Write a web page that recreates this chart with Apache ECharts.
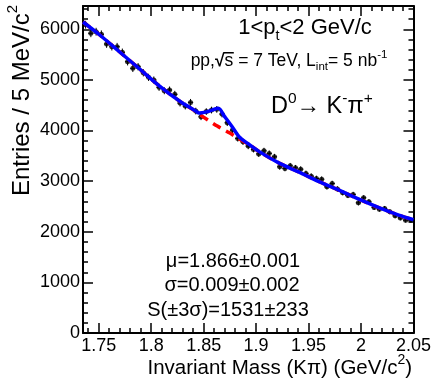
<!DOCTYPE html>
<html><head><meta charset="utf-8">
<script src="https://cdn.jsdelivr.net/npm/echarts@6/dist/echarts.min.js"></script>
<style>html,body{margin:0;padding:0;background:#fff}#c{width:434px;height:385px}</style>
</head><body><div id="c"></div>
<script>
const FONT = 'Liberation Sans';

// Data: invariant mass bin centres (GeV/c^2) and entries per 5 MeV/c^2
const massBins = [
 1.7375,1.7425,1.7475,1.7525,1.7575,1.7625,1.7675,1.7725,1.7775,1.7825,
 1.7875,1.7925,1.7975,1.8025,1.8075,1.8125,1.8175,1.8225,1.8275,1.8325,
 1.8375,1.8425,1.8475,1.8525,1.8575,1.8625,1.8675,1.8725,1.8775,1.8825,
 1.8875,1.8925,1.8975,1.9025,1.9075,1.9125,1.9175,1.9225,1.9275,1.9325,
 1.9375,1.9425,1.9475,1.9525,1.9575,1.9625,1.9675,1.9725,1.9775,1.9825,
 1.9875,1.9925,1.9975,2.0025,2.0075,2.0125,2.0175,2.0225,2.0275,2.0325,
 2.0375,2.0425,2.0475];
const entries = [
 6090,5921,5952,5901,5709,5656,5656,5545,5359,5228,
 5260,5141,5050,4997,4853,4786,4800,4715,4542,4483,
 4556,4384,4271,4374,4404,4418,4325,4153,4008,3844,
 3777,3692,3627,3538,3599,3548,3480,3283,3251,3302,
 3263,3237,3152,3099,3053,3039,2887,2954,2846,2772,
 2717,2737,2571,2670,2591,2480,2446,2460,2393,2314,
 2274,2229,2229];

// Total fit (signal + background)
const fitMass  = [1.735,1.751,1.770,1.789,1.808,1.827,1.842,1.846,1.853,1.858,1.864,1.870,1.877,1.884,1.892,1.903,1.922,1.941,1.960,1.979,1.998,2.017,2.036,2.050];
const fitTotal = [6144,5887,5551,5215,4878,4582,4390,4345,4370,4404,4438,4275,4080,3872,3745,3583,3356,3178,2990,2822,2643,2476,2328,2238];

// Background-only fit (dashed)
const bgMass   = [1.735,1.751,1.770,1.789,1.808,1.827,1.842,1.847,1.863,1.875,1.884,1.894,1.903,1.922,1.941,1.960,1.979,1.998,2.017,2.036,2.050];
const bgValues = [6144,5887,5551,5215,4878,4582,4384,4305,4088,3949,3831,3712,3583,3356,3178,2990,2822,2643,2476,2328,2238];

// Ticks
const xMajorTicks = [1.75,1.8,1.85,1.9,1.95,2.0,2.05];
const xTickLabels = ['1.75','1.8','1.85','1.9','1.95','2','2.05'];
const yMajorTicks = [0,1000,2000,3000,4000,5000,6000];
const yTickLabels = ['0','1000','2000','3000','4000','5000','6000'];
const xMinorTicks = [];
for (let i = 0; i <= 31; i++) xMinorTicks.push(Math.round((1.74 + i*0.01)*100)/100);
const yMinorTicks = [];
for (let i = 0; i <= 32; i++) yMinorTicks.push(i*200);

const X_MIN = 1.735, X_MAX = 2.05, Y_MIN = 0, Y_MAX = 6460;

function labelFor(v, ticks, labels){
  let best = 0, d = 1e9;
  ticks.forEach((t,i)=>{ const dd=Math.abs(t-v); if(dd<d){d=dd;best=i;} });
  return labels[best];
}

function xAx(pos, ticks, len, withLabels, withLine){
  return {type:'value', min:X_MIN, max:X_MAX, position:pos,
    axisLine:{show:withLine, onZero:false, lineStyle:{color:'#000', width:2}},
    axisTick:{show:true, inside:true, length:len, customValues:ticks, lineStyle:{color:'#000', width:1.5}},
    axisLabel:withLabels ? {show:true, customValues:xMajorTicks, color:'#000', fontSize:18, fontFamily:FONT, margin:4,
      formatter:(v)=>labelFor(v,xMajorTicks,xTickLabels)} : {show:false},
    splitLine:{show:false}};
}
function yAx(pos, ticks, len, withLabels, withLine){
  return {type:'value', min:Y_MIN, max:Y_MAX, position:pos,
    axisLine:{show:withLine, onZero:false, lineStyle:{color:'#000', width:2}},
    axisTick:{show:true, inside:true, length:len, customValues:ticks, lineStyle:{color:'#000', width:1.5}},
    axisLabel:withLabels ? {show:true, customValues:yMajorTicks, color:'#000', fontSize:18, fontFamily:FONT, margin:3,
      formatter:(v)=>labelFor(v,yMajorTicks,yTickLabels)} : {show:false},
    splitLine:{show:false}};
}

const mctx = document.createElement('canvas').getContext('2d');
function tw(t, size, weight){ mctx.font = (weight||'normal') + ' ' + size + 'px "' + FONT + '"'; return mctx.measureText(t).width; }
function seqGroup(segs, x, y, align, rotation){
  let w = 0; const kids = []; const overs = [];
  segs.forEach(s => {
    const sw = tw(s[0], s[1], s[3]);
    kids.push({type:'text', x:w, y:(s[2]||0), style:{text:s[0], fontSize:s[1], fontFamily:FONT, fontWeight:s[3]||'normal',
      fill:'#000', align:'left', verticalAlign:'middle', textAlign:'left', textVerticalAlign:'middle'}});
    if (s[4]) overs.push({x1:w-1, x2:w+sw+0.5, y:(s[2]||0) - 0.47*s[1]});
    w += sw;
  });
  const off = align==='center' ? -w/2 : (align==='right' ? -w : 0);
  kids.forEach(k => { k.x += off; });
  overs.forEach(o => kids.push({type:'line', shape:{x1:o.x1+off, y1:o.y, x2:o.x2+off, y2:o.y}, style:{stroke:'#000', lineWidth:1.5}}));
  return {type:'group', x:x, y:y, rotation:rotation||0, children:kids, silent:true};
}

const graphics = [
  seqGroup([['1<p',22],['t',14.5,8],['<2 GeV/c',22]], 305, 28, 'center'),
  seqGroup([['pp,',17.5],['\u221A',17.5,0,'bold'],['s',17.5,0,'normal',true],[' = 7 TeV, L',17.5],['int',11.5,6],['= 5 nb',17.5],['-1',11.5,-6]], 289, 61, 'center'),
  seqGroup([['D',23.5],['0',15.5,-8],['\u2192 K',23.5],['-',15.5,-8],['\u03C0',23.5],['+',15.5,-8]], 271, 107, 'left'),
  seqGroup([['\u03BC=1.866\u00B10.001',20]], 233, 261, 'center'),
  seqGroup([['\u03C3=0.009\u00B10.002',20]], 232, 285, 'center'),
  seqGroup([['S(\u00B13\u03C3)=1531\u00B1233',20]], 228, 310, 'center'),
  seqGroup([['Invariant Mass (K\u03C0) (GeV/c',20.5],['2',14,-8],[')',20.5]], 412, 368, 'right'),
  seqGroup([['Entries / 5 MeV/c',24],['2',15,-9]], 22, 5, 'right', Math.PI/2)
];

const chart = echarts.init(document.getElementById('c'), null, {renderer:'canvas'});
chart.setOption({
  animation:false,
  backgroundColor:'#fff',
  grid:{left:83, right:20, top:6, bottom:52, containLabel:false},
  xAxis:[ xAx('bottom', xMajorTicks, 10, true, true), xAx('bottom', xMinorTicks, 5, false, false),
          xAx('top', xMajorTicks, 10, false, true), xAx('top', xMinorTicks, 5, false, false) ],
  yAxis:[ yAx('left', yMajorTicks, 10, true, true), yAx('left', yMinorTicks, 5, false, false),
          yAx('right', yMajorTicks, 10, false, true), yAx('right', yMinorTicks, 5, false, false) ],
  series:[
    {type:'custom', xAxisIndex:0, yAxisIndex:0, z:2, silent:true,
     data: massBins.map((m,i)=>[m, entries[i], Math.sqrt(entries[i])]),
     renderItem:function(params, api){
       const x=api.value(0), y=api.value(1), e=api.value(2);
       const t=api.coord([x,y+e]), b=api.coord([x,y-e]);
       const l=api.coord([x-0.0025,y]), r=api.coord([x+0.0025,y]);
       return {type:'group', children:[
         {type:'line', shape:{x1:t[0],y1:t[1],x2:b[0],y2:b[1]}, style:{stroke:'#000', lineWidth:1}},
         {type:'line', shape:{x1:l[0],y1:l[1],x2:r[0],y2:r[1]}, style:{stroke:'#000', lineWidth:1}}
       ]};
     }},
    {type:'scatter', xAxisIndex:0, yAxisIndex:0, z:3, silent:true,
     data: massBins.map((m,i)=>[m, entries[i]]), symbol:'circle', symbolSize:5, itemStyle:{color:'#000'}},
    {type:'line', xAxisIndex:0, yAxisIndex:0, z:4, silent:true, smooth:0.3, symbol:'none',
     data: bgMass.map((m,i)=>[m, bgValues[i]]), lineStyle:{color:'#ff0000', width:3.5, type:[9,6]}},
    {type:'line', xAxisIndex:0, yAxisIndex:0, z:5, silent:true, smooth:0.3, symbol:'none',
     data: fitMass.map((m,i)=>[m, fitTotal[i]]), lineStyle:{color:'#0000ff', width:3.5}}
  ],
  graphic: graphics
});
</script></body></html>
